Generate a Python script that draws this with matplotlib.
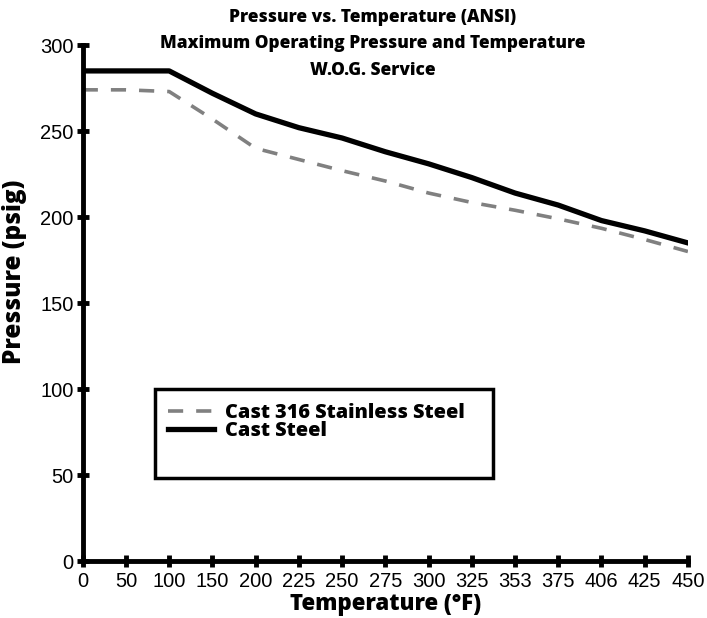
import numpy as np
import matplotlib
matplotlib.use("Agg")
import matplotlib.pyplot as plt
from matplotlib.patches import Rectangle

# data (categorical temperature axis)
temps = ["0", "50", "100", "150", "200", "225", "250", "275", "300",
         "325", "353", "375", "406", "425", "450"]
stainless = [274, 274, 273, 257, 240, 233.5, 227, 221, 214,
             208.5, 204, 199, 193.5, 187, 180]
cast_steel = [285, 285, 285, 272, 260, 252, 246, 238, 231,
              223, 214, 207, 198, 192, 185]

bold_font = ["Open Sans", "DejaVu Sans"]
tick_font = ["Liberation Sans", "DejaVu Sans"]

fig = plt.figure(figsize=(7.07, 6.18), dpi=100)
ax = fig.add_axes([0.117, 0.092, 0.856, 0.835])

x = np.arange(len(temps))
ax.plot(x, stainless, color="#808080", lw=2.6, dashes=(4.2, 3.6),
        label="Cast 316 Stainless Steel")
ax.plot(x, cast_steel, color="black", lw=3.8, solid_joinstyle="round",
        label="Cast Steel")

ax.set_xlim(0, len(temps) - 1)
ax.set_ylim(0, 300)
ax.set_xticks(x)
ax.set_xticklabels(temps)
ax.set_yticks(np.arange(0, 301, 50))

for side in ["top", "right"]:
    ax.spines[side].set_visible(False)
for side in ["left", "bottom"]:
    ax.spines[side].set_linewidth(3.5)
ax.tick_params(direction="inout", length=9, width=3.5, labelsize=14.5)
ax.tick_params(axis="x", pad=3)
ax.tick_params(axis="y", pad=2)
for lab in ax.get_xticklabels() + ax.get_yticklabels():
    lab.set_family(tick_font)

ax.set_xlabel("Temperature (°F)", family=bold_font, fontweight="heavy",
              fontsize=16, labelpad=1)
ax.set_ylabel("Pressure (psig)", family=bold_font, fontweight="heavy",
              fontsize=17.5)
ax.yaxis.set_label_coords(-0.092, 0.56)

fig.text(0.527, 0.929, "Pressure vs. Temperature (ANSI)\n"
         "Maximum Operating Pressure and Temperature\nW.O.G. Service",
         ha="center", va="center", family=bold_font, fontweight="heavy",
         fontsize=12.4, linespacing=1.75)

# legend box (taller than its entries, as in the original)
ax.add_patch(Rectangle((0.119, 0.161), 0.559, 0.172, transform=ax.transAxes,
                       fill=False, edgecolor="black", lw=2.5, clip_on=False))
ax.legend(loc="upper left", bbox_to_anchor=(0.118, 0.334), frameon=False,
          handlelength=2.3, handletextpad=0.55, borderpad=0.2,
          labelspacing=-0.08, prop={"family": bold_font, "weight": "heavy",
                                    "size": 14.3})

fig.savefig("out.png", dpi=100)
